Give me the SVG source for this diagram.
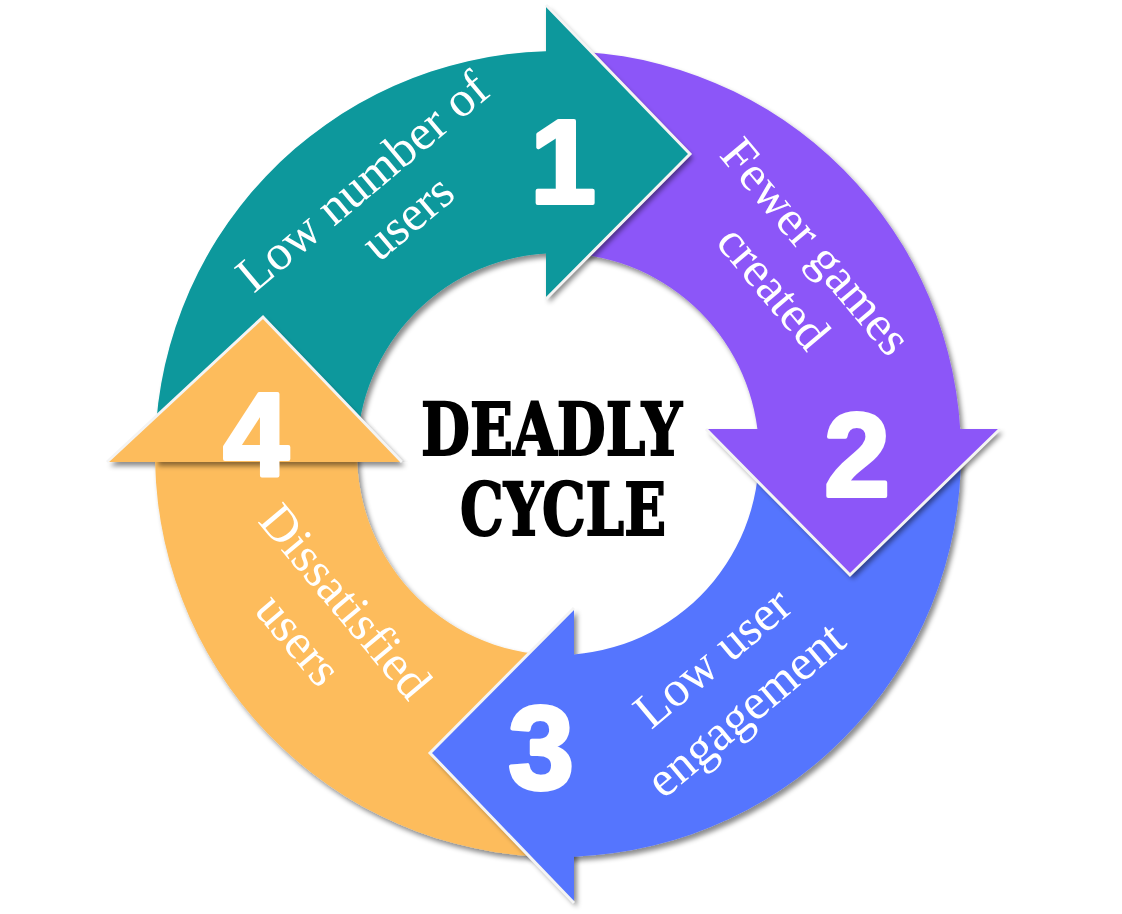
<svg xmlns="http://www.w3.org/2000/svg" width="1122" height="914" viewBox="0 0 1122 914">
<defs>
<filter id="sh" x="-10%" y="-10%" width="130%" height="130%">
<feDropShadow dx="3" dy="4" stdDeviation="2.5" flood-color="#000" flood-opacity="0.45"/>
</filter>
<clipPath id="clip4"><rect x="90" y="280" width="340" height="182"/></clipPath>
<path id="p4" d="M574 856.7 A403 403 0 0 1 155.1 462 L107 462 L263 317 L402 462 L357.2 462 A201 201 0 0 0 574 654.4 Z"/>
</defs>
<style>
.num{font-family:"Liberation Sans",Arial,sans-serif;font-weight:bold;font-size:118px;fill:#fff;stroke:#fff;stroke-width:4;stroke-linejoin:round;text-anchor:middle}
.lbl{font-family:"Liberation Serif","Times New Roman",serif;font-size:50px;fill:#fff;text-anchor:middle}
.hl{fill:none;stroke:#f4f4f4;stroke-width:3;stroke-linejoin:miter}
.title{font-family:"DejaVu Serif",serif;font-weight:bold;font-size:72px;fill:#000;stroke:#000;stroke-width:2}
</style>
<rect width="1122" height="914" fill="#fff"/>
<g id="connectors"/>
<g id="step-4">
<use href="#p4" fill="#fdbc5c" filter="url(#sh)"/>
<text class="lbl" transform="translate(333,612) rotate(50)">Dissatisfied</text>
<text class="lbl" transform="translate(286,650) rotate(50)">users</text>
</g>
<g id="step-3">
<path d="M960.2 429 A403 403 0 0 1 574 856.7 L574 903 L430 753 L574 608 L574 654.4 A201 201 0 0 0 757.4 429 Z" fill="#5574fe" filter="url(#sh)"/>
<polyline class="hl" points="574,608 430,753 574,903"/>
<text class="num" x="541" y="789">3</text>
<text class="lbl" transform="translate(723,670) rotate(-40)">Low user</text>
<text class="lbl" transform="translate(756,722) rotate(-40)">engagement</text>
</g>
<g id="step-2">
<path d="M546 51.2 A403 403 0 0 1 960.2 429 L1000 429 L850 575 L706 429 L757.4 429 A201 201 0 0 0 546 253.4 Z" fill="#8c57f8" filter="url(#sh)"/>
<polyline class="hl" points="706,429 850,575 1000,429"/>
<text class="num" x="857" y="496">2</text>
<text class="lbl" transform="translate(803.5,257) rotate(50)">Fewer games</text>
<text class="lbl" transform="translate(761,298) rotate(50)">created</text>
</g>
<g id="step-1">
<path d="M155.1 462 A403 403 0 0 1 546 51.2 L546 5 L690 154 L546 299 L546 253.4 A201 201 0 0 0 357.2 462 Z" fill="#08989c" filter="url(#sh)"/>
<polyline class="hl" points="546,5 690,154 546,299"/>
<text class="num" x="563" y="203">1</text>
<text class="lbl" transform="translate(373,194) rotate(-40)">Low number of</text>
<text class="lbl" transform="translate(418,230) rotate(-40)">users</text>
</g>
<g id="step-4-head">
<use href="#p4" fill="#fdbc5c" filter="url(#sh)" clip-path="url(#clip4)"/>
<polyline class="hl" points="107,462 263,317 402,462"/>
<text class="num" x="256" y="476">4</text>
</g>
<g id="center-title">
<text class="title" x="421" y="455" textLength="261" lengthAdjust="spacingAndGlyphs">DEADLY</text>
<text class="title" x="460" y="535" textLength="206" lengthAdjust="spacingAndGlyphs">CYCLE</text>
</g>
</svg>
